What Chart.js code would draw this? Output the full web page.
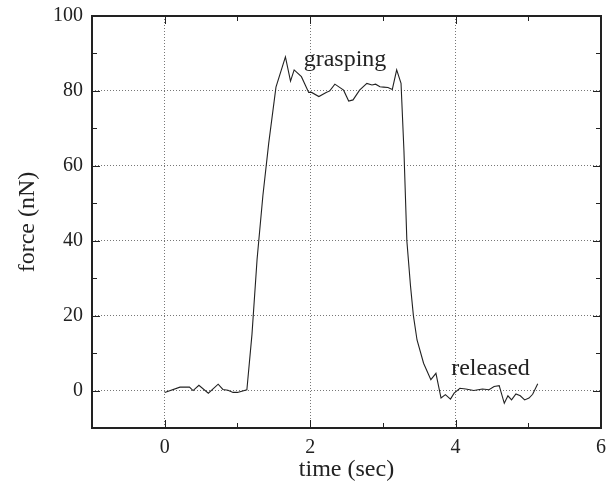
<!DOCTYPE html>
<html lang="en">
<head>
    <meta charset="UTF-8">
    <title>force vs time</title>
    <style>
        body { margin: 0; background: #fff; }
        #wrap { width: 609px; height: 485px; }
    </style>
    <script src="https://cdn.jsdelivr.net/npm/chart.js"></script>
</head>
<body>
    <div id="wrap"><canvas id="chart"></canvas></div>

    <script>
        // data
        const timeSec = [0, 0.21, 0.34, 0.39, 0.47, 0.60, 0.735, 0.80, 0.87, 0.94, 1.00, 1.13,
            1.20, 1.27, 1.35, 1.43, 1.53, 1.66, 1.73, 1.78, 1.88, 1.98, 2.02, 2.12, 2.22, 2.27,
            2.34, 2.46, 2.53, 2.59, 2.68, 2.78, 2.85, 2.90, 2.96, 3.01, 3.07, 3.13, 3.19, 3.25,
            3.29, 3.33, 3.38, 3.42, 3.47, 3.56, 3.66, 3.73, 3.80, 3.86, 3.93, 3.98, 4.06, 4.14,
            4.25, 4.37, 4.46, 4.53, 4.60, 4.67, 4.72, 4.77, 4.83, 4.89, 4.95, 5.01, 5.06, 5.13];
        const forceNN = [-0.5, 0.9, 0.9, 0, 1.4, -0.7, 1.7, 0.3, 0.1, -0.5, -0.5, 0.2,
            15, 35, 52, 66, 81, 89.1, 82.6, 85.6, 83.8, 79.6, 79.6, 78.5, 79.6, 80,
            81.8, 80.2, 77.3, 77.6, 80.2, 82, 81.6, 81.8, 81.1, 81, 80.9, 80.4, 85.6, 82,
            64, 40, 28, 20, 13.5, 7.3, 2.9, 4.6, -2, -1.1, -2.3, -0.7, 0.6, 0.4,
            0, 0.4, 0.2, 1.1, 1.3, -3.4, -1.4, -2.5, -0.9, -1.4, -2.5, -2, -1, 1.8];

        const xTicks = [0, 2, 4, 6];
        const xMinor = [1, 3, 5];
        const yTicks = [0, 20, 40, 60, 80, 100];
        const yMinor = [10, 30, 50, 70, 90];

        const notes = ['grasping', 'released'];
        const noteX = [2.48, 4.48];
        const noteY = [86.7, 4.2];

        const serif = "'Liberation Serif', 'Times New Roman', serif";
        const ink = '#222';

        const points = timeSec.map((t, i) => ({ x: t, y: forceNN[i] }));

        // frame, inward ticks and the two labels
        const framePlugin = {
            id: 'frame',
            afterDatasetsDraw(chart) {
                const ctx = chart.ctx;
                const a = chart.chartArea;
                const xs = chart.scales.x;
                const ys = chart.scales.y;
                ctx.save();
                ctx.strokeStyle = ink;
                ctx.lineWidth = 1;
                const major = 8, minor = 5;
                xTicks.concat(xMinor).forEach((v) => {
                    const len = xTicks.includes(v) ? major : minor;
                    const px = Math.round(xs.getPixelForValue(v)) + 0.5;
                    ctx.beginPath();
                    ctx.moveTo(px, a.bottom); ctx.lineTo(px, a.bottom - len);
                    ctx.moveTo(px, a.top); ctx.lineTo(px, a.top + len);
                    ctx.stroke();
                });
                yTicks.concat(yMinor).forEach((v) => {
                    const len = yTicks.includes(v) ? major : minor;
                    const py = Math.round(ys.getPixelForValue(v)) + 0.5;
                    ctx.beginPath();
                    ctx.moveTo(a.left, py); ctx.lineTo(a.left + len, py);
                    ctx.moveTo(a.right, py); ctx.lineTo(a.right - len, py);
                    ctx.stroke();
                });
                ctx.lineWidth = 2;
                ctx.strokeRect(a.left, a.top, a.right - a.left, a.bottom - a.top);

                ctx.fillStyle = ink;
                ctx.font = '24px ' + serif;
                ctx.textAlign = 'center';
                ctx.textBaseline = 'alphabetic';
                notes.forEach((txt, i) => {
                    ctx.fillText(txt, xs.getPixelForValue(noteX[i]), ys.getPixelForValue(noteY[i]));
                });
                ctx.restore();
            }
        };

        const ctx = document.getElementById('chart').getContext('2d');
        new Chart(ctx, {
            type: 'scatter',
            data: {
                datasets: [{
                    data: points,
                    showLine: true,
                    borderColor: ink,
                    borderWidth: 1.1,
                    pointRadius: 0,
                    tension: 0,
                }],
            },
            options: {
                responsive: true,
                maintainAspectRatio: false,
                animation: false,
                layout: { padding: { top: 16, right: 8, left: 0, bottom: 0 } },
                plugins: {
                    legend: { display: false },
                    tooltip: { enabled: false },
                },
                scales: {
                    x: {
                        type: 'linear',
                        min: -1,
                        max: 6,
                        afterBuildTicks: (s) => { s.ticks = xTicks.map((v) => ({ value: v })); },
                        afterFit: (s) => { s.height = 57; s.paddingLeft = 0; s.paddingRight = 0; },
                        grid: { color: '#777', lineWidth: 1, drawTicks: false },
                        border: { display: false, dash: [1, 2] },
                        ticks: { color: ink, padding: 8, font: { family: serif, size: 20 }, maxRotation: 0 },
                        title: { display: true, text: 'time (sec)', color: ink, padding: { top: 0, bottom: 1 },
                                 font: { family: serif, size: 24 } },
                    },
                    y: {
                        min: -10,
                        max: 100,
                        afterBuildTicks: (s) => { s.ticks = yTicks.map((v) => ({ value: v })); },
                        afterFit: (s) => { s.width = 92; s.paddingTop = 0; s.paddingBottom = 0; },
                        grid: { color: '#777', lineWidth: 1, drawTicks: false },
                        border: { display: false, dash: [1, 2] },
                        ticks: { color: ink, padding: 9, font: { family: serif, size: 20 } },
                        title: { display: true, text: 'force (nN)', color: ink, padding: { top: 13, bottom: 0 },
                                 font: { family: serif, size: 24 } },
                    },
                },
            },
            plugins: [framePlugin],
        });
    </script>
</body>
</html>
